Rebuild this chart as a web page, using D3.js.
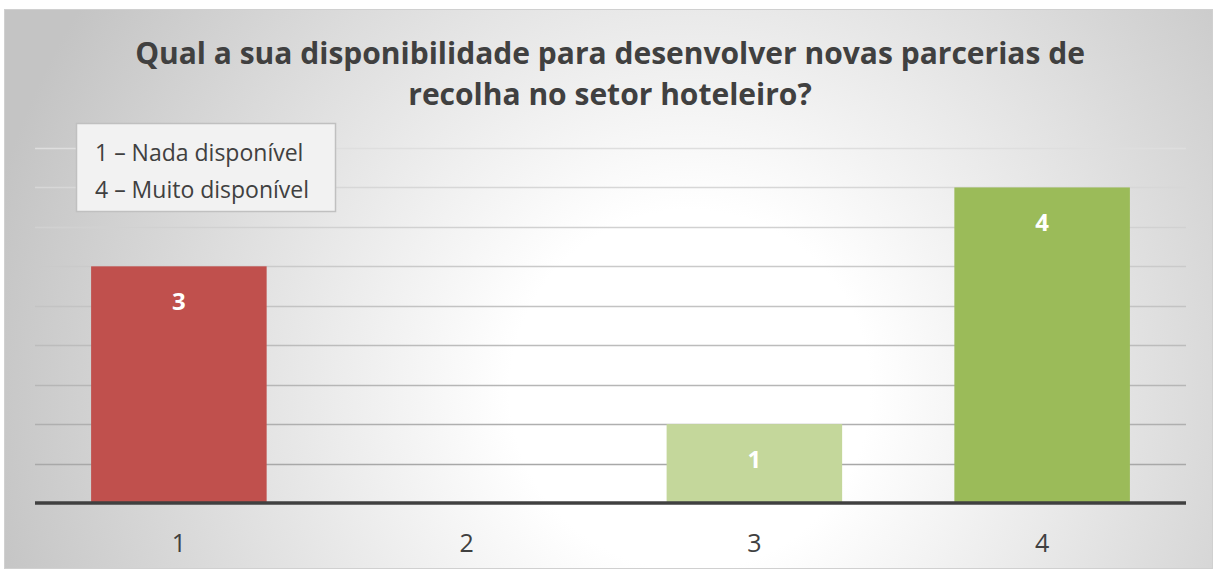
<!DOCTYPE html>
<html>
<head>
<meta charset="utf-8">
<script src="https://cdn.jsdelivr.net/npm/d3@7"></script>
<style>
  body { margin: 0; background: #fff; }
  svg { display: block; font-family: "Open Sans", "Noto Sans", sans-serif; }
</style>
</head>
<body>
<svg width="1217" height="572"></svg>
<script>
// chart data
var categories = ["1", "2", "3", "4"];
var values = [3, 0, 1, 4];
var barColors = ["#c0504d", "#c0504d", "#c4d79b", "#9bbb59"];
var titleLines = ["Qual a sua disponibilidade para desenvolver novas parcerias de", "recolha no setor hoteleiro?"];
var legendLines = ["1 \u2013 Nada disponível", "4 \u2013 Muito disponível"];
var gridTicks = [0.5, 1, 1.5, 2, 2.5, 3, 3.5, 4, 4.5];

var svg = d3.select("svg"),
  margin = { top: 148, right: 31, bottom: 69, left: 35 },
  width = +svg.attr("width") - margin.left - margin.right,
  height = 503 - margin.top;

// background gradient
var defs = svg.append("defs");
var grad = defs.append("radialGradient")
  .attr("id", "bg")
  .attr("gradientUnits", "userSpaceOnUse")
  .attr("cx", 690).attr("cy", 390).attr("r", 720);
grad.append("stop").attr("offset", "0%").attr("stop-color", "#ffffff");
grad.append("stop").attr("offset", "25%").attr("stop-color", "#ffffff");
grad.append("stop").attr("offset", "100%").attr("stop-color", "#c4c4c4");

svg.append("rect")
  .attr("x", 4.5).attr("y", 9.5)
  .attr("width", 1208).attr("height", 559)
  .attr("fill", "url(#bg)")
  .attr("stroke", "#d0d0d0");

var g = svg.append("g")
  .attr("transform", "translate(" + margin.left + "," + margin.top + ")");

var x = d3.scaleBand()
  .range([0, width])
  .domain(categories)
  .paddingInner(0.39)
  .paddingOuter(0.195);

var y = d3.scaleLinear()
  .range([height, 0])
  .domain([0, 4.5]);

var shade = d3.scaleLinear().domain([0.5, 4.5]).range(["#a8a8a8", "#dedede"]);

// gridlines
g.selectAll(".grid")
  .data(gridTicks)
  .enter()
  .append("line")
  .attr("class", "grid")
  .attr("x1", 0).attr("x2", width)
  .attr("y1", d => Math.round(y(d)) + 0.5)
  .attr("y2", d => Math.round(y(d)) + 0.5)
  .attr("stroke", d => shade(d))
  .attr("stroke-width", 1.5);

// bars
g.selectAll(".bar")
  .data(values)
  .enter()
  .append("rect")
  .attr("class", "bar")
  .attr("x", (d, i) => x(categories[i]))
  .attr("y", d => y(d))
  .attr("width", x.bandwidth())
  .attr("height", d => height - y(d))
  .attr("fill", (d, i) => barColors[i]);

// bar labels
g.selectAll(".lbl")
  .data(values.filter(d => d > 0).map(d => ({ v: d, c: categories[values.indexOf(d)] })))
  .enter()
  .append("text")
  .attr("x", d => x(d.c) + x.bandwidth() / 2)
  .attr("y", d => y(d.v) + 44)
  .attr("text-anchor", "middle")
  .attr("fill", "#fff")
  .style("font-size", "24px")
  .style("font-weight", "bold")
  .text(d => d.v);

// x axis
var xAxis = g.append("g")
  .attr("transform", "translate(0," + height + ")")
  .call(d3.axisBottom(x).tickSize(0).tickPadding(31));
xAxis.select(".domain").remove();
xAxis.selectAll("text")
  .attr("fill", "#404040")
  .style("font-size", "25px")
  .style("font-family", "'Open Sans', 'Noto Sans', sans-serif");
g.append("line")
  .attr("x1", 0).attr("x2", width)
  .attr("y1", height).attr("y2", height)
  .attr("stroke", "#404040")
  .attr("stroke-width", 3.5);

// title
svg.selectAll(".title")
  .data(titleLines)
  .enter()
  .append("text")
  .attr("class", "title")
  .attr("x", 610)
  .attr("y", (d, i) => 64 + i * 41)
  .attr("text-anchor", "middle")
  .attr("fill", "#404040")
  .style("font-size", "30px")
  .style("font-weight", "bold")
  .text(d => d);

// legend box
svg.append("rect")
  .attr("x", 76.5).attr("y", 123.5)
  .attr("width", 259).attr("height", 88)
  .attr("fill", "#f2f2f2")
  .attr("stroke", "#c0c0c0")
  .attr("stroke-width", 1.5);
svg.selectAll(".leg")
  .data(legendLines)
  .enter()
  .append("text")
  .attr("x", 95)
  .attr("y", (d, i) => 161 + i * 37)
  .attr("fill", "#404040")
  .style("font-size", "23px")
  .text(d => d);
</script>
</body>
</html>
